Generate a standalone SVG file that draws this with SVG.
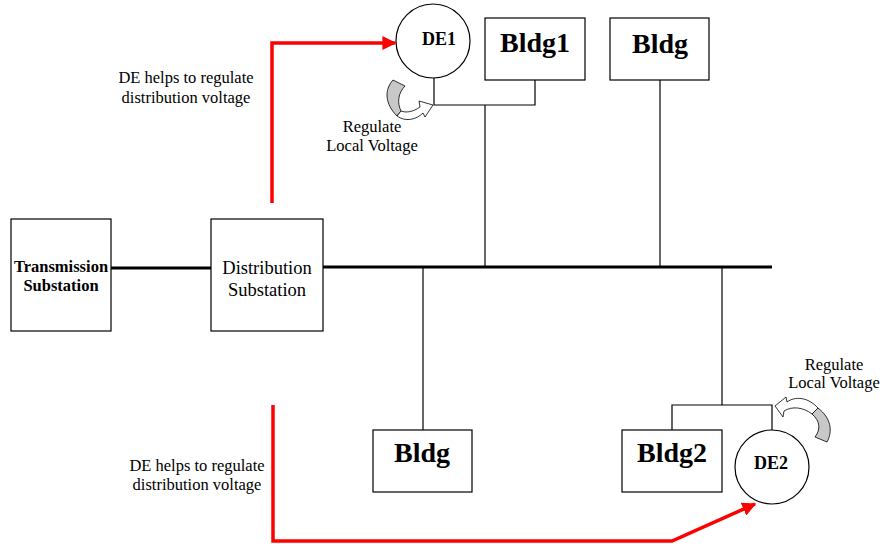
<svg xmlns="http://www.w3.org/2000/svg" width="883" height="544" viewBox="0 0 883 544">
<defs>
<style>
.box{fill:#fff;stroke:#000;stroke-width:1.2}
.thin{fill:none;stroke:#000;stroke-width:1.2}
.bus{fill:none;stroke:#000;stroke-width:3}
.red{fill:none;stroke:#f00;stroke-width:3.5}
.t{font-family:"Liberation Serif","Times New Roman",serif;fill:#000;text-anchor:middle}
.big{font-size:28px;font-weight:bold}
.de{font-size:18px;font-weight:bold}
.lbl{font-size:16.5px}
</style>
<marker id="ah" viewBox="0 0 10 10" refX="9" refY="5" markerWidth="4" markerHeight="4" orient="auto" markerUnits="strokeWidth">
<path d="M0,0 L10,5 L0,10 Z" fill="#f00"/>
</marker>
</defs>
<rect width="883" height="544" fill="#fff"/>
<g id="connectors">
<line class="bus" x1="111" y1="268" x2="211" y2="268"/>
<line class="bus" x1="323" y1="267" x2="772" y2="267"/>
<line class="thin" x1="485" y1="105" x2="485" y2="267"/>
<polyline class="thin" points="434,78 434,105 535,105 535,80"/>
<line class="thin" x1="660" y1="80" x2="660" y2="267"/>
<line class="thin" x1="423" y1="267" x2="423" y2="430"/>
<line class="thin" x1="722" y1="267" x2="722" y2="405"/>
<polyline class="thin" points="672,430 672,405 772,405 772,430"/>
<polyline class="red" points="272,203 272,43 395,43" marker-end="url(#ah)"/>
<polyline class="red" points="273,405 273,541 672,541 755,504" marker-end="url(#ah)"/>
</g>
<g id="transmission">
<rect class="box" x="11" y="219" width="100" height="112"/>
<text class="t" x="61" y="272" font-size="16.5" font-weight="bold">Transmission</text>
<text class="t" x="61" y="291" font-size="16.5" font-weight="bold">Substation</text>
</g>
<g id="distribution">
<rect class="box" x="211" y="219" width="112" height="112"/>
<text class="t" x="267" y="274" font-size="18.5">Distribution</text>
<text class="t" x="267" y="296" font-size="18.5">Substation</text>
</g>
<g id="de1">
<circle class="box" cx="433" cy="41" r="37"/>
<text class="t de" x="439" y="45">DE1</text>
</g>
<g id="bldg1">
<rect class="box" x="485" y="18" width="100" height="62"/>
<text class="t big" x="535" y="52">Bldg1</text>
</g>
<g id="bldg-top">
<rect class="box" x="610" y="18" width="99" height="62"/>
<text class="t big" x="660" y="53">Bldg</text>
</g>
<g id="bldg-bottom">
<rect class="box" x="373" y="430" width="99" height="62"/>
<text class="t big" x="422" y="462">Bldg</text>
</g>
<g id="bldg2">
<rect class="box" x="622" y="430" width="100" height="62"/>
<text class="t big" x="672" y="462">Bldg2</text>
</g>
<g id="de2">
<circle class="box" cx="772" cy="467" r="37"/>
<text class="t de" x="771" y="469">DE2</text>
</g>
<g id="labels">
<text class="t lbl" x="186" y="83">DE helps to regulate</text>
<text class="t lbl" x="186" y="103">distribution voltage</text>
<text class="t lbl" x="197" y="471">DE helps to regulate</text>
<text class="t lbl" x="197" y="490">distribution voltage</text>
<text class="t lbl" x="372" y="132">Regulate</text>
<text class="t lbl" x="372" y="151">Local Voltage</text>
<text class="t lbl" x="834" y="370">Regulate</text>
<text class="t lbl" x="834" y="388">Local Voltage</text>
</g>
<g id="curved-arrow-1">
<path d="M393,80 L405,86 C398,93 397,103 401,111 L397,116 C385,104 384,90 393,80 Z" fill="#c8c8c8" stroke="#000" stroke-width="0.8"/>
<path d="M397,116 C405,122 416,120 423,113 L425,117 L433,105 L419,101 L420,107 C413,112 406,113 401,111 Z" fill="#fff" stroke="#000" stroke-width="0.8"/>
</g>
<g id="curved-arrow-2">
<path d="M818,408 C831,418 833,431 827,442 L815,437 C821,429 820,421 812,414 Z" fill="#c8c8c8" stroke="#000" stroke-width="0.8"/>
<path d="M818,408 C808,397 795,396 787,402 L786,397 L775,406 L783,417 L784,411 C792,406 803,407 812,414 Z" fill="#fff" stroke="#000" stroke-width="0.8"/>
</g>
</svg>
